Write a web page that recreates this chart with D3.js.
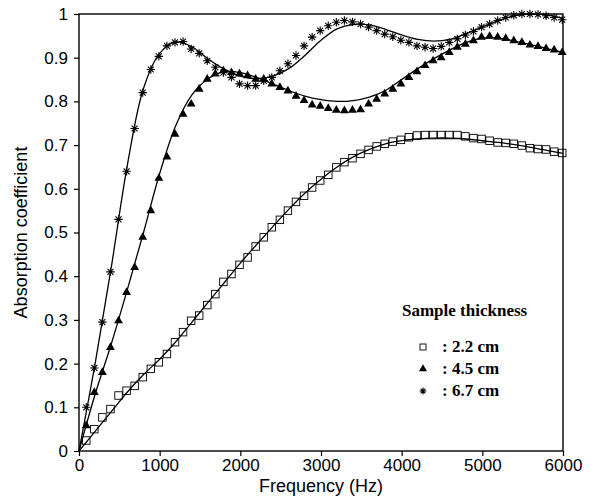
<!DOCTYPE html>
<html>
<head>
<meta charset="utf-8">
<script src="https://cdn.jsdelivr.net/npm/d3@7"></script>
<style>
  body { margin: 0; background: #fff; }
  svg { display: block; }
</style>
</head>
<body>
<div id="chart"></div>
<script>
// measured points (markers), Hz
const markerFreq = [90, 190, 290, 390, 490, 590, 690, 790, 890, 990,
  1090, 1190, 1290, 1390, 1490, 1590, 1690, 1790, 1890, 1990,
  2090, 2190, 2290, 2390, 2490, 2590, 2690, 2790, 2890, 2990,
  3090, 3190, 3290, 3390, 3490, 3590, 3690, 3790, 3890, 3990,
  4090, 4190, 4290, 4390, 4490, 4590, 4690, 4790, 4890, 4990,
  5090, 5190, 5290, 5390, 5490, 5590, 5690, 5790, 5890, 5990];

const alpha22 = [0.024, 0.05, 0.077, 0.096, 0.127, 0.138, 0.149, 0.169, 0.188, 0.203,
  0.222, 0.249, 0.272, 0.298, 0.31, 0.334, 0.359, 0.387, 0.405, 0.426,
  0.443, 0.468, 0.489, 0.512, 0.529, 0.55, 0.57, 0.584, 0.603, 0.619,
  0.632, 0.649, 0.661, 0.67, 0.68, 0.689, 0.697, 0.703, 0.708, 0.712,
  0.718, 0.722, 0.723, 0.723, 0.723, 0.723, 0.723, 0.72, 0.716, 0.714,
  0.71, 0.706, 0.705, 0.703, 0.699, 0.693, 0.691, 0.69, 0.685, 0.682];

const alpha45 = [0.058, 0.134, 0.18, 0.237, 0.298, 0.363, 0.42, 0.489, 0.55, 0.624,
  0.673, 0.725, 0.771, 0.794, 0.828, 0.851, 0.863, 0.87, 0.866, 0.863,
  0.859, 0.851, 0.851, 0.84, 0.832, 0.824, 0.812, 0.802, 0.792, 0.789,
  0.784, 0.78, 0.779, 0.78, 0.781, 0.794, 0.805, 0.817, 0.828, 0.84,
  0.855, 0.868, 0.882, 0.893, 0.9, 0.912, 0.924, 0.931, 0.939, 0.947,
  0.949, 0.947, 0.944, 0.939, 0.935, 0.929, 0.926, 0.921, 0.918, 0.912];

const alpha67 = [0.10, 0.19, 0.295, 0.41, 0.53, 0.64, 0.738, 0.82, 0.873, 0.903,
  0.927, 0.935, 0.937, 0.92, 0.91, 0.893, 0.878, 0.866, 0.855, 0.84,
  0.836, 0.836, 0.847, 0.855, 0.87, 0.886, 0.905, 0.927, 0.947, 0.962,
  0.973, 0.981, 0.985, 0.982, 0.977, 0.97, 0.962, 0.954, 0.948, 0.94,
  0.935, 0.927, 0.924, 0.921, 0.926, 0.935, 0.943, 0.952, 0.96, 0.97,
  0.977, 0.985, 0.992, 0.997, 1.0, 1.0, 0.999, 0.996, 0.992, 0.987];

// predicted curves (solid lines)
const lineFreq = [0, 200, 400, 600, 800, 1000, 1200, 1400, 1600, 1800,
  2000, 2200, 2400, 2600, 2800, 3000, 3200, 3400, 3600, 3800,
  4000, 4200, 4400, 4600, 4800, 5000, 5200, 5400, 5600, 5800, 6000];

const fit22 = [0, 0.045, 0.09, 0.135, 0.175, 0.21, 0.25, 0.295, 0.34, 0.385,
  0.43, 0.472, 0.513, 0.553, 0.59, 0.622, 0.65, 0.673, 0.69, 0.703,
  0.71, 0.714, 0.716, 0.716, 0.714, 0.71, 0.706, 0.701, 0.695, 0.688, 0.681];

const fit45 = [0, 0.13, 0.245, 0.37, 0.5, 0.635, 0.745, 0.815, 0.852, 0.868,
  0.866, 0.855, 0.84, 0.825, 0.812, 0.804, 0.8, 0.802, 0.81, 0.825,
  0.85, 0.875, 0.898, 0.918, 0.935, 0.945, 0.945, 0.938, 0.93, 0.921, 0.912];

const fit67 = [0, 0.20, 0.42, 0.655, 0.83, 0.91, 0.936, 0.925, 0.897, 0.874,
  0.858, 0.852, 0.858, 0.875, 0.905, 0.94, 0.966, 0.976, 0.975, 0.965,
  0.952, 0.942, 0.938, 0.942, 0.955, 0.97, 0.985, 0.996, 1.0, 0.998, 0.99];

const xTicks = [0, 1000, 2000, 3000, 4000, 5000, 6000];
const yTicks = [0, 0.1, 0.2, 0.3, 0.4, 0.5, 0.6, 0.7, 0.8, 0.9, 1];
const yTickLabels = ["0", "0.1", "0.2", "0.3", "0.4", "0.5", "0.6", "0.7", "0.8", "0.9", "1"];
const legendLabels = ["2.2 cm", "4.5 cm", "6.7 cm"];

const width = 597, height = 498;
const plotLeft = 79, plotRight = 563, plotTop = 14, plotBottom = 451;

const svg = d3.select("#chart").append("svg")
    .attr("width", width)
    .attr("height", height);

const x = d3.scaleLinear().domain([0, 6000]).range([plotLeft, plotRight]);
const y = d3.scaleLinear().domain([0, 1]).range([plotBottom, plotTop]);

const sansFont = "'Liberation Sans', Arial, Helvetica, sans-serif";
const serifFont = "'Liberation Serif', 'Times New Roman', serif";

// axes
const xAxis = svg.append("g")
    .attr("transform", `translate(0,${plotBottom})`)
    .call(d3.axisBottom(x).tickValues(xTicks).tickSize(5).tickPadding(3).tickFormat(d3.format("d")));
const yAxis = svg.append("g")
    .attr("transform", `translate(${plotLeft},0)`)
    .call(d3.axisLeft(y).tickValues(yTicks).tickSize(5).tickPadding(6)
        .tickFormat((d, i) => yTickLabels[i]));

[xAxis, yAxis].forEach(g => {
    g.select(".domain").remove();
    g.selectAll("line").attr("stroke", "#000").attr("stroke-width", 1.2);
    g.selectAll("text").attr("fill", "#000")
        .style("font-family", sansFont).style("font-size", "17px");
});

// frame
svg.append("rect")
    .attr("x", plotLeft).attr("y", plotTop)
    .attr("width", plotRight - plotLeft).attr("height", plotBottom - plotTop)
    .attr("fill", "none").attr("stroke", "#000").attr("stroke-width", 1.4);

svg.append("text")
    .attr("x", (plotLeft + plotRight) / 2).attr("y", 492)
    .attr("text-anchor", "middle")
    .style("font-family", sansFont).style("font-size", "18px")
    .text("Frequency (Hz)");

svg.append("text")
    .attr("transform", `translate(27,${(plotTop + plotBottom) / 2}) rotate(-90)`)
    .attr("text-anchor", "middle")
    .style("font-family", sansFont).style("font-size", "18px")
    .text("Absorption coefficient");

// fitted lines
const line = d3.line()
    .x(d => x(d[0]))
    .y(d => y(d[1]))
    .curve(d3.curveCatmullRom);

[fit22, fit45, fit67].forEach(fit => {
    svg.append("path")
        .datum(d3.zip(lineFreq, fit))
        .attr("d", line)
        .attr("fill", "none")
        .attr("stroke", "#000")
        .attr("stroke-width", 1.3);
});

// marker shapes
function asteriskPath(r) {
    const d = r * Math.SQRT1_2;
    return `M0,${-r}L0,${r}M${-r},0L${r},0M${-d},${-d}L${d},${d}M${-d},${d}L${d},${-d}`;
}
const trianglePath = d3.symbol(d3.symbolTriangle, 34)();

svg.append("g").selectAll("rect")
    .data(d3.zip(markerFreq, alpha22))
    .enter()
    .append("rect")
    .attr("x", d => x(d[0]) - 3.75)
    .attr("y", d => y(d[1]) - 3.75)
    .attr("width", 7.5).attr("height", 7.5)
    .attr("fill", "none")
    .attr("stroke", "#000")
    .attr("stroke-width", 0.9);

svg.append("g").selectAll("path")
    .data(d3.zip(markerFreq, alpha45))
    .enter()
    .append("path")
    .attr("d", trianglePath)
    .attr("transform", d => `translate(${x(d[0])},${y(d[1])})`)
    .attr("fill", "#000");

svg.append("g").selectAll("path")
    .data(d3.zip(markerFreq, alpha67))
    .enter()
    .append("path")
    .attr("d", asteriskPath(4.2))
    .attr("transform", d => `translate(${x(d[0])},${y(d[1])})`)
    .attr("stroke", "#000")
    .attr("stroke-width", 1.1);

// legend
svg.append("text")
    .attr("x", 402).attr("y", 316)
    .style("font-family", serifFont).style("font-size", "17px").style("font-weight", "bold")
    .text("Sample thickness");

const legendY = [347, 369, 391];
const lg = svg.append("g");
legendLabels.forEach((label, i) => {
    const cy = legendY[i];
    if (i === 0) {
        lg.append("rect").attr("x", 420).attr("y", cy - 3).attr("width", 6).attr("height", 6)
            .attr("fill", "none").attr("stroke", "#000").attr("stroke-width", 0.9);
    } else if (i === 1) {
        lg.append("path").attr("d", d3.symbol(d3.symbolTriangle, 28)())
            .attr("transform", `translate(423,${cy})`).attr("fill", "#000");
    } else {
        lg.append("path").attr("d", asteriskPath(3.4))
            .attr("transform", `translate(423,${cy})`)
            .attr("stroke", "#000").attr("stroke-width", 1.1);
    }
    lg.append("text")
        .attr("x", 442).attr("y", cy + 5)
        .style("font-family", serifFont).style("font-size", "17px").style("font-weight", "bold")
        .text(": " + label);
});
</script>
</body>
</html>
